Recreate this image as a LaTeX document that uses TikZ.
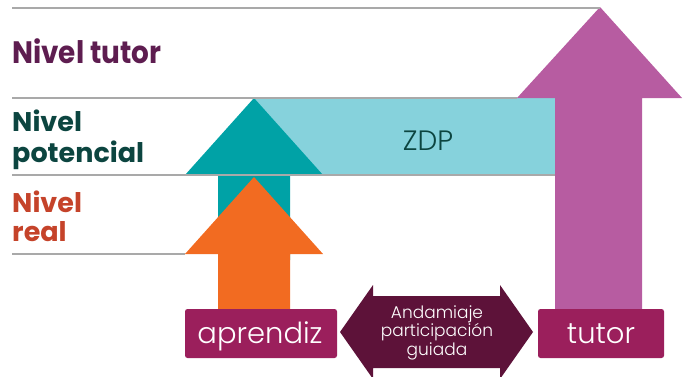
\documentclass[tikz,border=0pt]{standalone}
\usepackage{fontspec}
\setmainfont{Poppins}
\newfontfamily\lightfont{Poppins Light}
\definecolor{cgray}{HTML}{A9A9A9}
\definecolor{ctutortxt}{HTML}{5E1D50}
\definecolor{cpottxt}{HTML}{0C4540}
\definecolor{crealtxt}{HTML}{C5432A}
\definecolor{cteal}{HTML}{00A2A6}
\definecolor{czdp}{HTML}{86D2DC}
\definecolor{cpurple}{HTML}{B75CA1}
\definecolor{corange}{HTML}{F26B21}
\definecolor{cbox}{HTML}{9B1F5C}
\definecolor{cdark}{HTML}{5D1239}
\begin{document}
\begin{tikzpicture}[x=1pt,y=-1pt,
  gray line/.style={draw=cgray,line width=2.4pt},
  boxstyle/.style={fill=cbox,draw=none,rounded corners=2.5pt},
  lvltxt/.style={anchor=base west,inner sep=0pt,font=\bfseries\fontsize{27}{27}\selectfont},
  boxtxt/.style={anchor=base,inner sep=0pt,text=white,font=\lightfont\fontsize{29}{29}\selectfont},
  smalltxt/.style={anchor=base,inner sep=0pt,text=white,font=\lightfont\fontsize{17}{17}\selectfont}]
\useasboundingbox (0,0) rectangle (684,376);
% ZDP band
\fill[czdp] (254,98) rectangle (555,175);
\node[anchor=base,inner sep=0pt,text=cpottxt,font=\lightfont\fontsize{28}{28}\selectfont] (zdp) at (428,150) {ZDP};
% tutor arrow
\fill[cpurple] (555,309) -- (555,98) -- (517,98) -- (600,7) -- (682,98) -- (642,98) -- (642,309) -- cycle;
% teal arrow
\fill[cteal] (218,260) -- (218,175) -- (185,175) -- (254,98) -- (323,175) -- (290,175) -- (290,260) -- cycle;
% orange arrow
\fill[corange] (218,309) -- (218,254) -- (185,254) -- (254,177) -- (323,254) -- (290,254) -- (290,309) -- cycle;
% level lines
\draw[gray line] (12,8) -- (600,8);
\draw[gray line] (12,98) -- (517,98);
\draw[gray line] (12,175) -- (555,175);
\draw[gray line] (12,254) -- (185,254);
% level texts
\node[lvltxt,text=ctutortxt,font=\bfseries\fontsize{31}{31}\selectfont,xscale=0.9] (nt) at (12,63) {Nivel tutor};
\node[lvltxt,text=cpottxt] (np1) at (12,131) {Nivel};
\node[lvltxt,text=cpottxt] (np2) at (12,162) {potencial};
\node[lvltxt,text=crealtxt] (nr1) at (12,212) {Nivel};
\node[lvltxt,text=crealtxt] (nr2) at (12,241) {real};
% boxes
\fill[boxstyle] (185,309) rectangle (337,358);
\fill[boxstyle] (538,309) rectangle (664,358);
\node[boxtxt] (apr) at (260,343) {aprendiz};
\node[boxtxt] (tut) at (601,343) {tutor};
% double arrow
\fill[cdark] (340,332) -- (373,285) -- (373,296) -- (500,296) -- (500,285) -- (533,332) -- (500,379) -- (500,368) -- (373,368) -- (373,379) -- cycle;
\node[smalltxt] (a1) at (437,318) {Andamiaje};
\node[smalltxt] (a2) at (437,336) {participación};
\node[smalltxt] (a3) at (437,355) {guiada};
\end{tikzpicture}
\end{document}
